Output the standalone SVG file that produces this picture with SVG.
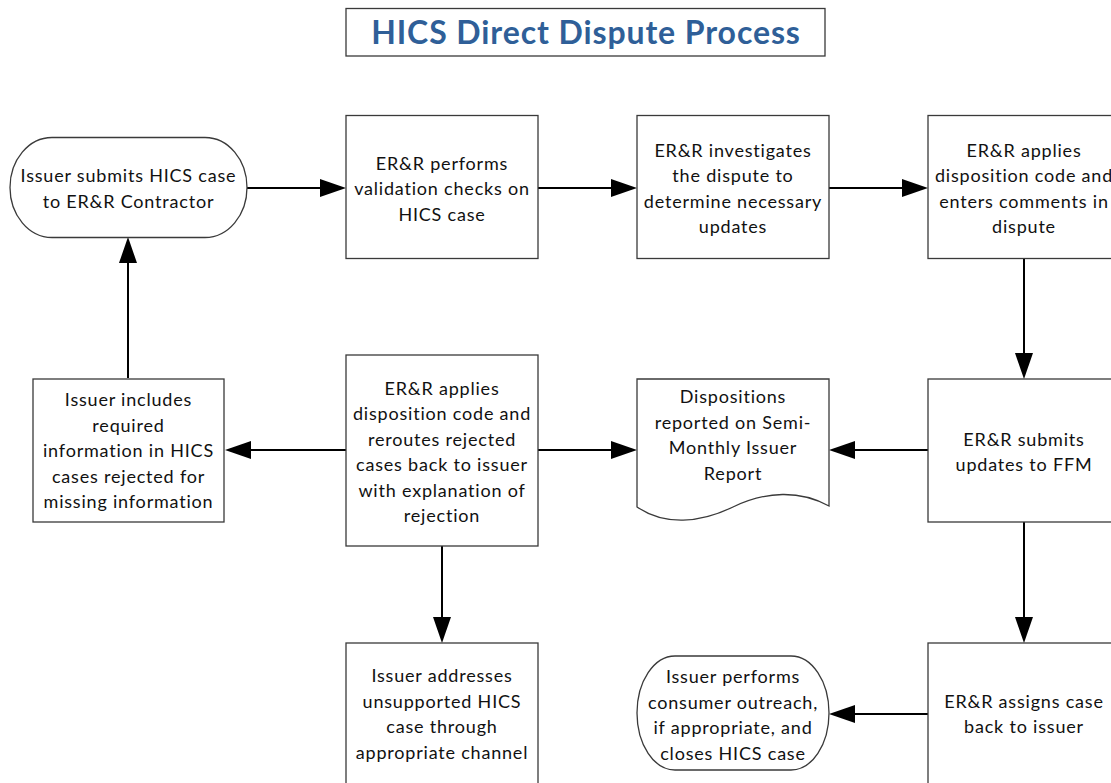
<svg xmlns="http://www.w3.org/2000/svg" width="1111" height="783" viewBox="0 0 1111 783">
<style>
.node{fill:#ffffff;stroke:#3a3a3a;stroke-width:1.3}
.t{font-family:Lato,"Liberation Sans",sans-serif;font-size:18px;letter-spacing:0.8px;fill:#111111;text-anchor:middle}
.title{font-family:Lato,"Liberation Sans",sans-serif;font-size:32px;letter-spacing:0.9px;font-weight:bold;fill:#2F5F98;text-anchor:middle}
.c{fill:none;stroke:#000000;stroke-width:2;marker-end:url(#ah)}
</style>
<defs>
<marker id="ah" markerUnits="userSpaceOnUse" markerWidth="26" markerHeight="18" viewBox="0 0 26 18" refX="0" refY="9" orient="auto">
<path d="M0,0 L26,9 L0,18 z" fill="#000000"/>
</marker>
</defs>
<rect width="1111" height="783" fill="#ffffff"/>
<g id="title">
<rect class="node" x="346" y="8.5" width="479" height="47.5"/>
<text class="title" x="586" y="43.5">HICS Direct Dispute Process</text>
</g>
<g id="connectors">
<path class="c" d="M247,188 H320"/>
<path class="c" d="M538,188 H611"/>
<path class="c" d="M829,188 H902"/>
<path class="c" d="M1024,259 V353"/>
<path class="c" d="M928,450 H855"/>
<path class="c" d="M538,450 H611"/>
<path class="c" d="M346,450 H251"/>
<path class="c" d="M128,378 V263"/>
<path class="c" d="M442,546 V617"/>
<path class="c" d="M1024,522 V617"/>
<path class="c" d="M928,714 H855"/>
</g>
<g id="n1">
<rect class="node" x="10" y="137.5" width="237" height="100" rx="42" ry="50"/>
<text class="t" x="128.5" y="182">Issuer submits HICS case</text>
<text class="t" x="128.5" y="207.5">to ER&amp;R Contractor</text>
</g>
<g id="n2">
<rect class="node" x="346" y="115.5" width="192" height="143"/>
<text class="t" x="442" y="169.5">ER&amp;R performs</text>
<text class="t" x="442" y="195">validation checks on</text>
<text class="t" x="442" y="220.5">HICS case</text>
</g>
<g id="n3">
<rect class="node" x="637" y="115.5" width="192" height="143"/>
<text class="t" x="733" y="156.5">ER&amp;R investigates</text>
<text class="t" x="733" y="182">the dispute to</text>
<text class="t" x="733" y="207.5">determine necessary</text>
<text class="t" x="733" y="233">updates</text>
</g>
<g id="n4">
<rect class="node" x="928" y="115.5" width="192" height="143"/>
<text class="t" x="1024" y="156.5">ER&amp;R applies</text>
<text class="t" x="1024" y="182">disposition code and</text>
<text class="t" x="1024" y="207.5">enters comments in</text>
<text class="t" x="1024" y="233">dispute</text>
</g>
<g id="n5">
<rect class="node" x="928" y="379" width="192" height="143"/>
<text class="t" x="1024" y="445.5">ER&amp;R submits</text>
<text class="t" x="1024" y="471">updates to FFM</text>
</g>
<g id="n6">
<path class="node" d="M637,379 H829 V506 C800,490 766,491 733,507 C700,523 665,526 637,507 Z"/>
<text class="t" x="733" y="403">Dispositions</text>
<text class="t" x="733" y="428.5">reported on Semi-</text>
<text class="t" x="733" y="454">Monthly Issuer</text>
<text class="t" x="733" y="479.5">Report</text>
</g>
<g id="n7">
<rect class="node" x="346" y="355" width="192" height="191"/>
<text class="t" x="442" y="394.5">ER&amp;R applies</text>
<text class="t" x="442" y="420">disposition code and</text>
<text class="t" x="442" y="445.5">reroutes rejected</text>
<text class="t" x="442" y="471">cases back to issuer</text>
<text class="t" x="442" y="496.5">with explanation of</text>
<text class="t" x="442" y="522">rejection</text>
</g>
<g id="n8">
<rect class="node" x="33" y="379" width="191" height="143"/>
<text class="t" x="128.5" y="406">Issuer includes</text>
<text class="t" x="128.5" y="431.5">required</text>
<text class="t" x="128.5" y="457">information in HICS</text>
<text class="t" x="128.5" y="482.5">cases rejected for</text>
<text class="t" x="128.5" y="508">missing information</text>
</g>
<g id="n9">
<rect class="node" x="346" y="643" width="192" height="145"/>
<text class="t" x="442" y="682">Issuer addresses</text>
<text class="t" x="442" y="707.5">unsupported HICS</text>
<text class="t" x="442" y="733">case through</text>
<text class="t" x="442" y="758.5">appropriate channel</text>
</g>
<g id="n10">
<rect class="node" x="928" y="643" width="192" height="145"/>
<text class="t" x="1024" y="707.5">ER&amp;R assigns case</text>
<text class="t" x="1024" y="733">back to issuer</text>
</g>
<g id="n11">
<rect class="node" x="637" y="656" width="192" height="114" rx="38" ry="57"/>
<text class="t" x="733" y="683">Issuer performs</text>
<text class="t" x="733" y="708.5">consumer outreach,</text>
<text class="t" x="733" y="734">if appropriate, and</text>
<text class="t" x="733" y="759.5">closes HICS case</text>
</g>
</svg>
